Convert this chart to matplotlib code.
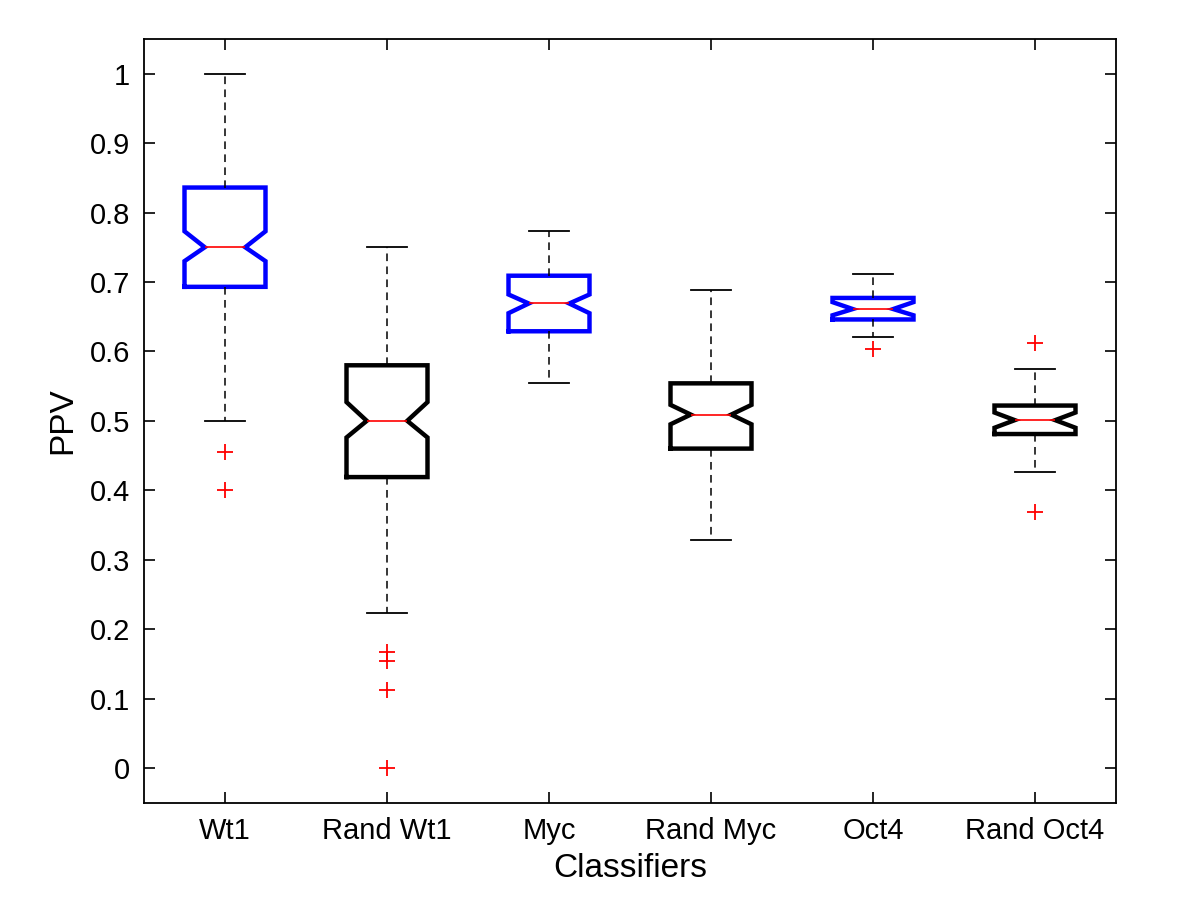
import numpy as np
import matplotlib
matplotlib.use('Agg')
import matplotlib.pyplot as plt

# 分类器名称及箱线图统计量
labels = ['Wt1', 'Rand Wt1', 'Myc', 'Rand Myc', 'Oct4', 'Rand Oct4']
q1 = [0.693, 0.419, 0.629, 0.460, 0.646, 0.481]
med = [0.750, 0.500, 0.669, 0.509, 0.661, 0.501]
q3 = [0.836, 0.580, 0.709, 0.554, 0.677, 0.522]
whislo = [0.500, 0.223, 0.554, 0.328, 0.621, 0.426]
whishi = [1.000, 0.750, 0.773, 0.689, 0.712, 0.574]
cilo = [0.730, 0.476, 0.655, 0.495, 0.652, 0.490]
cihi = [0.773, 0.527, 0.682, 0.523, 0.671, 0.512]
fliers = [[0.455, 0.400], [0.167, 0.154, 0.112, 0.0], [], [], [0.603], [0.612, 0.368]]
box_colors = ['blue', 'black', 'blue', 'black', 'blue', 'black']

plt.rcParams['font.family'] = ['Liberation Sans', 'DejaVu Sans']

stats = []
for i in range(len(labels)):
    stats.append(dict(label=labels[i], q1=q1[i], med=med[i], q3=q3[i],
                      whislo=whislo[i], whishi=whishi[i],
                      cilo=cilo[i], cihi=cihi[i], fliers=fliers[i]))

fig = plt.figure(figsize=(12, 9.06), dpi=100)
ax = fig.add_axes([0.12, 0.114, 0.81, 0.843])

res = ax.bxp(stats, positions=range(1, 7), widths=0.5, shownotches=True,
             boxprops=dict(linewidth=3.2),
             medianprops=dict(color='red', linewidth=1.2),
             whiskerprops=dict(color='black', linewidth=1.1, linestyle=(0, (5, 3.5))),
             capprops=dict(color='black', linewidth=1.3),
             flierprops=dict(marker='+', markeredgecolor='red', markersize=12,
                             markeredgewidth=1.3, linestyle='none'))

for b, c in zip(res['boxes'], box_colors):
    b.set_color(c)
    b.set_solid_joinstyle('miter')

ax.set_xlim(0.5, 6.5)
ax.set_ylim(-0.05, 1.05)
ax.set_yticks(np.arange(0, 1.01, 0.1))
ax.set_yticklabels(['0', '0.1', '0.2', '0.3', '0.4', '0.5', '0.6', '0.7', '0.8', '0.9', '1'])
ax.set_xticks(range(1, 7))
ax.set_xticklabels(labels)

ax.tick_params(direction='in', top=True, right=True, length=8, width=1.2,
               labelsize=21, pad=10)
for s in ax.spines.values():
    s.set_linewidth(1.3)

ax.set_xlabel('Classifiers', fontsize=24, labelpad=6)
ax.set_ylabel('PPV', fontsize=24, labelpad=8)

fig.savefig('out.png', dpi=100, facecolor='white')
